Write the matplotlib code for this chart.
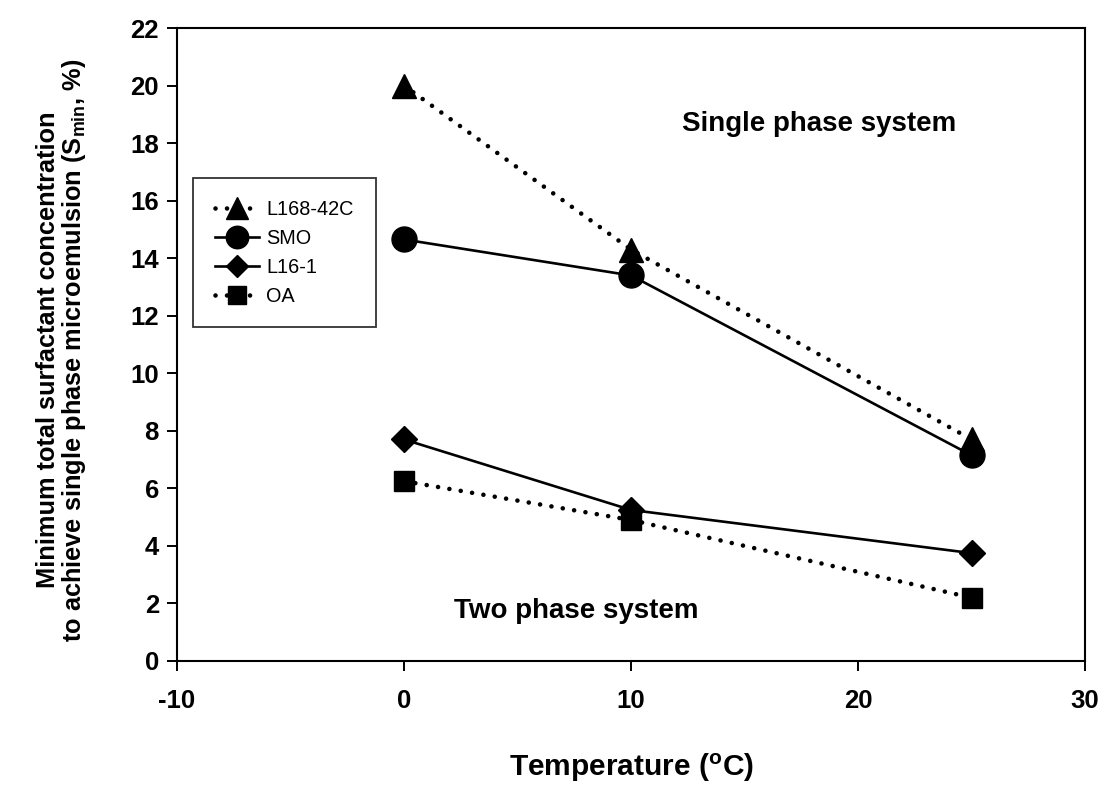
import matplotlib
matplotlib.use("Agg")
import matplotlib.pyplot as plt

matplotlib.rcParams["font.family"] = ["Liberation Sans", "DejaVu Sans"]
matplotlib.rcParams["font.weight"] = "bold"
matplotlib.rcParams["axes.unicode_minus"] = False

temps = [0, 10, 25]
l168 = [20.0, 14.3, 7.7]
smo = [14.65, 13.4, 7.15]
l161 = [7.7, 5.25, 3.75]
oa = [6.25, 4.9, 2.2]

dots = (0, (0.01, 2.5))

fig = plt.figure(figsize=(11.04, 7.85), dpi=100)
ax = fig.add_axes([177/1104, 1-661/785, (1085-177)/1104, (661-28)/785])

ax.plot(temps, l168, ls=dots, lw=3.3, color="black", marker="^", ms=17,
        dash_capstyle="round", label="L168-42C")
ax.plot(temps, smo, ls="-", lw=1.9, color="black", marker="o", ms=18, label="SMO")
ax.plot(temps, l161, ls="-", lw=1.9, color="black", marker="D", ms=13, label="L16-1")
ax.plot(temps, oa, ls=dots, lw=3.3, color="black", marker="s", ms=15,
        dash_capstyle="round", label="OA")

ax.set_xlim(-10, 30)
ax.set_ylim(0, 22)
ax.set_xticks([-10, 0, 10, 20, 30])
ax.set_yticks(range(0, 23, 2))
ax.tick_params(direction="out", length=7, width=1.4, labelsize=18.5, pad=6)
ax.tick_params(axis="x", pad=13)
for lab in ax.get_xticklabels() + ax.get_yticklabels():
    lab.set_fontweight("bold")
for s in ax.spines.values():
    s.set_linewidth(1.5)

ax.set_xlabel("Temperature ($\\mathregular{^{o}}$C)", fontsize=21.5, fontweight="bold", va="center")
ax.xaxis.set_label_coords((632-177)/908, -(768-661)/633)
ax.set_ylabel("Minimum total surfactant concentration\nto achieve single phase microemulsion (S$\\mathregular{_{min}}$, %)",
              fontsize=18.3, fontweight="bold", linespacing=1.0, va="center")
ax.yaxis.set_label_coords(-(177-62)/908, (661-350)/633)

ax.text(18.3, 18.65, "Single phase system", fontsize=20, fontweight="bold", ha="center", va="center")
ax.text(7.6, 1.75, "Two phase system", fontsize=20, fontweight="bold", ha="center", va="center")

leg = ax.legend(loc="upper left", bbox_to_anchor=(16/908, 1-150/633), frameon=True,
                fancybox=False, edgecolor="black", fontsize=14.3, handlelength=2.2,
                labelspacing=0.5, borderpad=1.1, handletextpad=0.4, markerscale=0.9,
                borderaxespad=0)
leg.get_frame().set_linewidth(1.3)
for t in leg.get_texts():
    t.set_fontweight("normal")

fig.savefig("out.png", dpi=100)
